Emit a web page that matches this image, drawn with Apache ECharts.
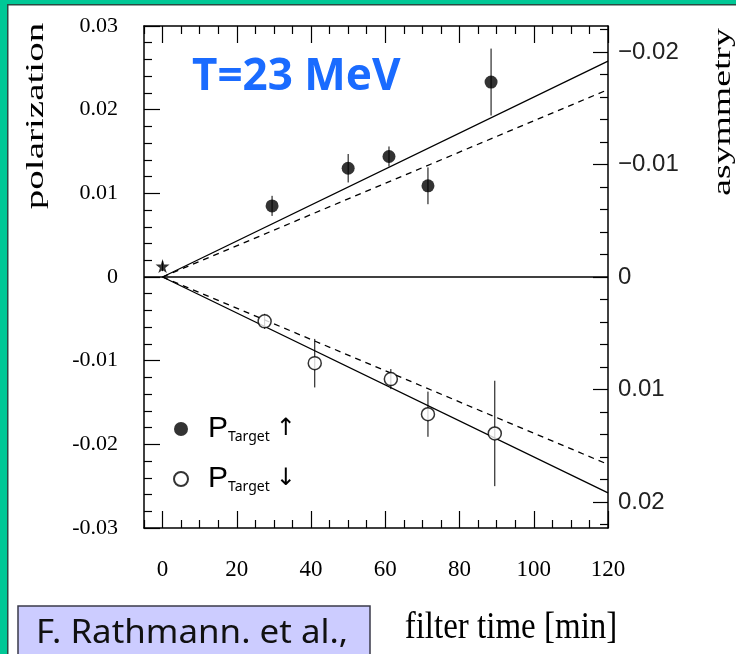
<!DOCTYPE html>
<html>
<head>
<meta charset="utf-8">
<script src="https://cdn.jsdelivr.net/npm/echarts@6/dist/echarts.min.js"></script>
<style>
  html, body { margin: 0; padding: 0; background: #ffffff; }
  #chart { width: 736px; height: 654px; }
</style>
</head>
<body>
<div id="chart"></div>
<script>
// ---- data ----
const upX   = [29.5, 50, 61, 71.5, 88.5];
const upY   = [0.0085, 0.0130, 0.0144, 0.0109, 0.0233];
const upErr = [0.0012, 0.0017, 0.0012, 0.0022, 0.0040];

const downX   = [27.5, 41, 61.5, 71.5, 89.5];
const downY   = [-0.0053, -0.0103, -0.0122, -0.0164, -0.0187];
const downErr = [0.0009, 0.0029, 0.0012, 0.0027, 0.0063];

const starX = [0];
const starY = [0.0013];
const starErr = [0.0006];

const fitX = [0, 120];
const fitSolidUp   = [0, 0.0258];
const fitDashedUp  = [0, 0.0224];
const fitSolidDown = [0, -0.0258];
const fitDashedDown= [0, -0.0224];
const zeroLineX = [-5, 120];
const zeroLineY = [0, 0];

// ---- ticks ----
const xMajorTicks = [0, 20, 40, 60, 80, 100, 120];
const xMinorTicks = [-5, 5, 10, 15, 25, 30, 35, 45, 50, 55, 65, 70, 75, 85, 90, 95, 105, 110, 115];
const polMajorTicks = [-0.03, -0.02, -0.01, 0, 0.01, 0.02, 0.03];
const polMinorTicks = [-0.028, -0.026, -0.024, -0.022, -0.018, -0.016, -0.014, -0.012,
  -0.008, -0.006, -0.004, -0.002, 0.002, 0.004, 0.006, 0.008,
  0.012, 0.014, 0.016, 0.018, 0.022, 0.024, 0.026, 0.028];
const asymMajorTicks = [-0.02, -0.01, 0, 0.01, 0.02];
const asymMinorTicks = [-0.022, -0.018, -0.016, -0.014, -0.012, -0.008, -0.006, -0.004, -0.002,
  0.002, 0.004, 0.006, 0.008, 0.012, 0.014, 0.016, 0.018, 0.022];

// ---- build tables ----
const pairs = (xs, ys) => xs.map((x, i) => [x, ys[i]]);
const errRows = (xs, ys, es) => xs.map((x, i) => [x, ys[i] - es[i], ys[i] + es[i]]);

const serif = 'Liberation Serif, Times New Roman, serif';
const sans = 'Liberation Sans, Arial, sans-serif';

function errBarRender(params, api) {
  const x = api.value(0);
  const p1 = api.coord([x, api.value(1)]);
  const p2 = api.coord([x, api.value(2)]);
  return { type: 'line', shape: { x1: p1[0], y1: p1[1], x2: p2[0], y2: p2[1] },
           style: { stroke: '#000', lineWidth: 1 } };
}

const chart = echarts.init(document.getElementById('chart'), null, { renderer: 'canvas' });

const tickStyle = { color: '#000', width: 1.2 };
const axisLineStyle = { color: '#000', width: 1.5 };

const option = {
  animation: false,
  backgroundColor: '#ffffff',
  grid: { left: 144, right: 128, top: 26, bottom: 126 },
  xAxis: [
    { type: 'value', position: 'bottom', min: -5, max: 120,
      axisLine: { show: true, onZero: false, lineStyle: axisLineStyle },
      axisTick: { show: true, inside: true, length: 17, customValues: xMajorTicks, lineStyle: tickStyle },
      axisLabel: { show: true, customValues: xMajorTicks, margin: 30, fontFamily: serif, fontSize: 23, color: '#000' },
      splitLine: { show: false } },
    { type: 'value', position: 'bottom', min: -5, max: 120,
      axisLine: { show: false, onZero: false },
      axisTick: { show: true, inside: true, length: 8, customValues: xMinorTicks, lineStyle: tickStyle },
      axisLabel: { show: false }, splitLine: { show: false } },
    { type: 'value', position: 'top', min: -5, max: 120,
      axisLine: { show: true, onZero: false, lineStyle: axisLineStyle },
      axisTick: { show: true, inside: true, length: 17, customValues: xMajorTicks, lineStyle: tickStyle },
      axisLabel: { show: false }, splitLine: { show: false } },
    { type: 'value', position: 'top', min: -5, max: 120,
      axisLine: { show: false, onZero: false },
      axisTick: { show: true, inside: true, length: 8, customValues: xMinorTicks, lineStyle: tickStyle },
      axisLabel: { show: false }, splitLine: { show: false } }
  ],
  yAxis: [
    { type: 'value', position: 'left', min: -0.03, max: 0.03,
      axisLine: { show: true, onZero: false, lineStyle: axisLineStyle },
      axisTick: { show: true, inside: true, length: 16, customValues: polMajorTicks, lineStyle: tickStyle },
      axisLabel: { show: true, customValues: polMajorTicks, margin: 26, fontFamily: serif, fontSize: 22, color: '#000',
        formatter: v => (Math.abs(v) < 1e-9 ? '0' : v.toFixed(2)) },
      splitLine: { show: false } },
    { type: 'value', position: 'right', min: -0.0223, max: 0.0223, inverse: true,
      axisLine: { show: true, onZero: false, lineStyle: axisLineStyle },
      axisTick: { show: true, inside: true, length: 15, customValues: asymMajorTicks, lineStyle: tickStyle },
      axisLabel: { show: true, customValues: asymMajorTicks, margin: 10, fontFamily: sans, fontSize: 24, color: '#222',
        formatter: v => (Math.abs(v) < 1e-9 ? '0' : (v < 0 ? '\u2212' + Math.abs(v).toFixed(2) : v.toFixed(2))) },
      splitLine: { show: false } },
    { type: 'value', position: 'left', min: -0.03, max: 0.03,
      axisLine: { show: false, onZero: false },
      axisTick: { show: true, inside: true, length: 8, customValues: polMinorTicks, lineStyle: tickStyle },
      axisLabel: { show: false }, splitLine: { show: false } },
    { type: 'value', position: 'right', min: -0.0223, max: 0.0223, inverse: true,
      axisLine: { show: false, onZero: false },
      axisTick: { show: true, inside: true, length: 8, customValues: asymMinorTicks, lineStyle: tickStyle },
      axisLabel: { show: false }, splitLine: { show: false } }
  ],
  legend: {
    orient: 'vertical', left: 173, top: 414, padding: 0,
    itemWidth: 14, itemHeight: 14, itemGap: 20,
    data: [{ name: 'up', icon: 'circle' }, { name: 'down', icon: 'circle' }],
    formatter: name => name === 'up' ? '{p|P}{s|Target}{a|\u2191}' : '{p|P}{s|Target}{a|\u2193}',
    textStyle: {
      rich: {
        p: { fontFamily: sans, fontSize: 30, lineHeight: 30, color: '#000', padding: [0, 0, 0, 15] },
        s: { fontFamily: 'Noto Sans', fontSize: 14, lineHeight: 8, color: '#000', verticalAlign: 'bottom' },
        a: { fontFamily: 'DejaVu Sans', fontSize: 24, lineHeight: 30, color: '#000', padding: [0, 0, 0, 6] }
      }
    }
  },
  series: [
    { type: 'line', name: 'zero', data: pairs(zeroLineX, zeroLineY), symbol: 'none',
      lineStyle: { color: '#000', width: 1.3 }, z: 2 },
    { type: 'line', name: 'fitSolidUp', data: pairs(fitX, fitSolidUp), symbol: 'none',
      lineStyle: { color: '#000', width: 1.3 }, z: 2 },
    { type: 'line', name: 'fitDashedUp', data: pairs(fitX, fitDashedUp), symbol: 'none',
      lineStyle: { color: '#000', width: 1.3, type: [6, 5] }, z: 2 },
    { type: 'line', name: 'fitSolidDown', data: pairs(fitX, fitSolidDown), symbol: 'none',
      lineStyle: { color: '#000', width: 1.3 }, z: 2 },
    { type: 'line', name: 'fitDashedDown', data: pairs(fitX, fitDashedDown), symbol: 'none',
      lineStyle: { color: '#000', width: 1.3, type: [6, 5] }, z: 2 },
    { type: 'custom', name: 'errUp', data: errRows(upX, upY, upErr), renderItem: errBarRender,
      encode: { x: 0, y: [1, 2] }, z: 3 },
    { type: 'custom', name: 'errDown', data: errRows(downX, downY, downErr), renderItem: errBarRender,
      encode: { x: 0, y: [1, 2] }, z: 3 },
    { type: 'custom', name: 'errStar', data: errRows(starX, starY, starErr), renderItem: errBarRender,
      encode: { x: 0, y: [1, 2] }, z: 3 },
    { type: 'scatter', name: 'up', data: pairs(upX, upY), symbol: 'circle', symbolSize: 13,
      itemStyle: { color: '#000' }, z: 5 },
    { type: 'scatter', name: 'down', data: pairs(downX, downY), symbol: 'circle', symbolSize: 13,
      itemStyle: { color: '#fff', borderColor: '#000', borderWidth: 1.5 }, z: 5 },
    { type: 'scatter', name: 'star', data: pairs(starX, starY),
      symbol: 'path://M50,0 L61,35 L98,35 L68,57 L79,91 L50,70 L21,91 L32,57 L2,35 L39,35 Z',
      symbolSize: 14, itemStyle: { color: '#000' }, z: 5 }
  ],
  graphic: [
    { type: 'rect', shape: { x: 0, y: 0, width: 7, height: 654 }, style: { fill: '#00C896' }, silent: true },
    { type: 'rect', shape: { x: 0, y: 0, width: 736, height: 4 }, style: { fill: '#00C896' }, silent: true },
    { type: 'rect', shape: { x: 7, y: 4, width: 1.5, height: 650 }, style: { fill: '#2a4a42' }, silent: true },
    { type: 'rect', shape: { x: 7, y: 4, width: 729, height: 1.5 }, style: { fill: '#2a4a42' }, silent: true },
    { type: 'text', x: 192, y: 77,
      style: { text: 'T=23 MeV', fill: '#1A6BFF', font: 'bold 44px "Noto Sans", sans-serif',
               align: 'left', verticalAlign: 'middle' } },
    { type: 'text', x: 36, y: 116, rotation: Math.PI / 2, scaleX: 1.5,
      style: { text: 'polarization', fill: '#000', font: '26px "Liberation Serif", serif',
               align: 'center', verticalAlign: 'middle' } },
    { type: 'text', x: 723, y: 112, rotation: Math.PI / 2, scaleX: 1.45,
      style: { text: 'asymmetry', fill: '#000', font: '26px "Liberation Serif", serif',
               align: 'center', verticalAlign: 'middle' } },
    { type: 'text', x: 511, y: 628, scaleY: 1.15,
      style: { text: 'filter time [min]', fill: '#000', font: '33px "Liberation Serif", serif',
               align: 'center', verticalAlign: 'middle' } },
    { type: 'rect', shape: { x: 18, y: 606, width: 352, height: 60 },
      style: { fill: '#CCCCFF', stroke: '#3a3a4a', lineWidth: 1.5 }, silent: true },
    { type: 'text', x: 36, y: 634, scaleX: 1.09,
      style: { text: 'F. Rathmann. et al.,', fill: '#111', font: '32px "Noto Sans", sans-serif',
               align: 'left', verticalAlign: 'middle' } }
  ]
};

chart.setOption(option);
</script>
</body>
</html>
